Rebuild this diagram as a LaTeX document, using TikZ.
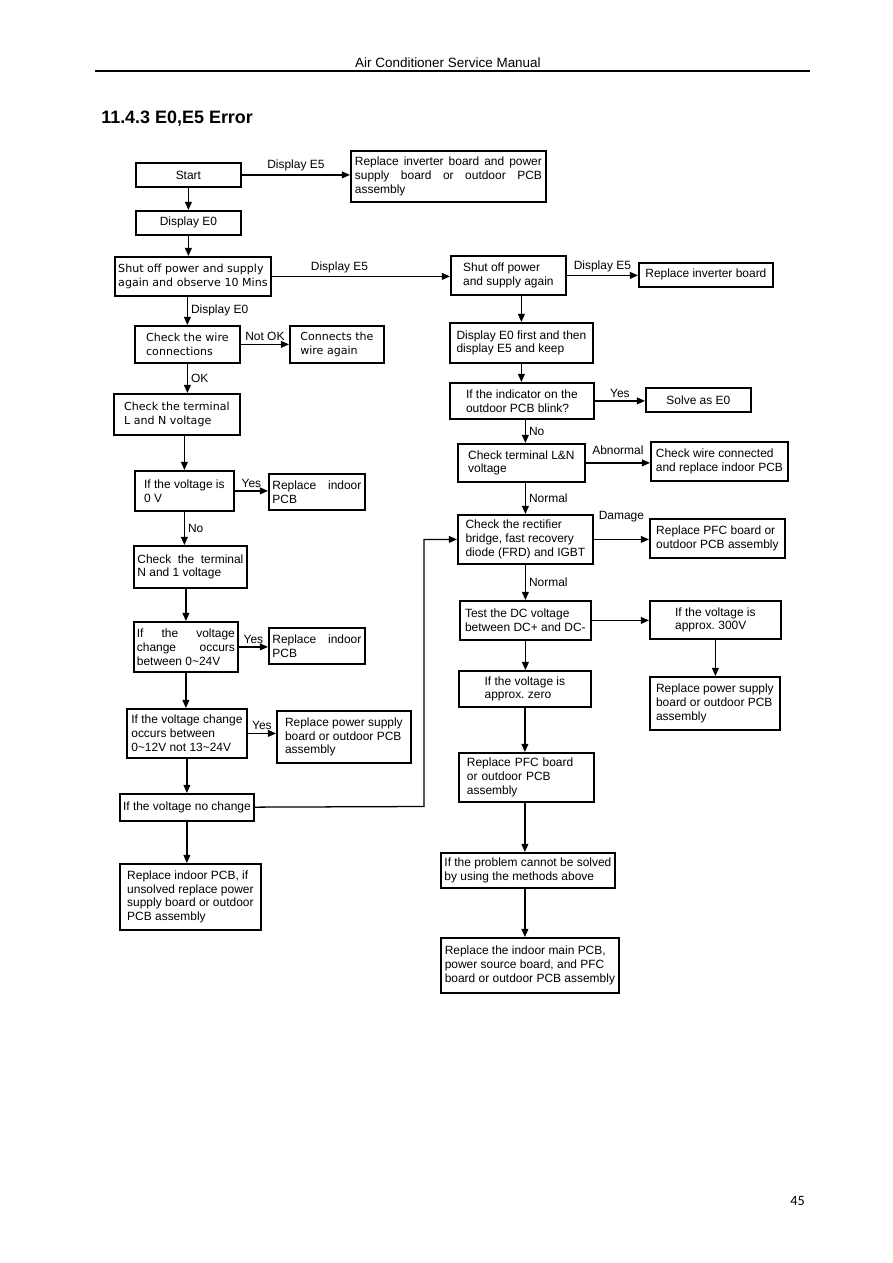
\documentclass[tikz,border=0pt]{standalone}
\usepackage{fontspec}
\setmainfont{Liberation Sans}
\newfontfamily\vfont{DejaVu Sans}
\newfontfamily\pgfont{Carlito}
\usetikzlibrary{arrows.meta}
\newdimen\unitpx
\unitpx=0.235mm

\begin{document}
\begin{tikzpicture}[x=0.235mm, y=-0.235mm,
  font=\fontsize{8}{9.3}\selectfont,
  box/.style={draw, line width=1.2pt, anchor=north west, inner sep=0pt, align=left},
  cbox/.style={box, align=center},
  jbox/.style={box, align=justify, text width=#1\unitpx},
  tbox/.style={box, text width=#1\unitpx},
  wh/.style 2 args={minimum width=#1\unitpx, minimum height=#2\unitpx},
  vtxt/.style={font=\vfont\fontsize{7.4}{9.3}\selectfont},
  lbl/.style={inner sep=2pt},
  arr/.style={-{Triangle[length=1.9mm,width=1.6mm]}, line width=0.85pt}
]
  \useasboundingbox (0,0) rectangle (893,1263);
  \node[anchor=base east, font=\fontsize{9}{11}\selectfont] (hdr) at (546,67) {Air Conditioner Service Manual};
  \draw[line width=1.3pt] (95,71) -- (810,71);
  \node[anchor=base west, font=\bfseries\fontsize{12}{14}\selectfont] (ttl) at (96,123) {11.4.3 E0,E5 Error};
  \node[anchor=base east, font=\pgfont\fontsize{9.5}{11}\selectfont] (pg) at (810,1205) {45};

  \node[cbox, wh={105}{24}]       (start)   at (135,162) {Start};
  \node[jbox=187, wh={195}{51}]   (rep1)    at (350,150) {Replace inverter board and power\linebreak supply board or outdoor PCB\linebreak assembly};
  \node[cbox, wh={105}{24}]       (disp0)   at (135,210) {Display E0};
  \node[box, vtxt, wh={156}{39}]  (shut1)   at (114,256) {Shut off power and supply\\again and observe 10 Mins};
  \node[box, vtxt, wh={105}{37}]  (wire)    at (134,325) {Check the wire\\connections};
  \node[box, vtxt, wh={94}{37}]   (conn)    at (289,325) {Connects the\\wire again};
  \node[box, vtxt, wh={126}{41}]  (lnv)     at (113,393) {Check the terminal\\L and N voltage};
  \node[box, wh={99}{40}]         (volt0)   at (134,470) {If the voltage is\\0 V};
  \node[jbox=89, wh={96}{36}]     (repin1)  at (268,473) {Replace indoor\linebreak PCB};
  \node[jbox=106, wh={113}{42}]   (n1v)     at (133,545) {Check the terminal\linebreak N and 1 voltage};
  \node[jbox=98, wh={104}{50}]    (v24)     at (133,621) {If the voltage\linebreak change occurs\linebreak between 0\textasciitilde24V};
  \node[jbox=89, wh={96}{36}]     (repin2)  at (268,627) {Replace indoor\linebreak PCB};
  \node[box, wh={120}{49}]        (v12)     at (126,708) {If the voltage change\\occurs between\\0\textasciitilde12V not 13\textasciitilde24V};
  \node[box, wh={134}{52}]        (reppow1) at (276,710) {Replace power supply\\board or outdoor PCB\\assembly};
  \node[box, wh={134}{27}]        (nochg)   at (119,793) {If the voltage no change};
  \node[box, wh={141}{66}]        (repfin1) at (119,863) {Replace indoor PCB, if\\unsolved replace power\\supply board or outdoor\\PCB assembly};

  \node[box, wh={115}{39}]        (shut2)   at (450,255) {Shut off power\\and supply again};
  \node[box, wh={134}{24}]        (repinv)  at (638,262) {Replace inverter board};
  \node[box, wh={143}{40}]        (disp05)  at (449,322) {Display E0 first and then\\display E5 and keep};
  \node[box, wh={144}{36}]        (ind)     at (449,382) {If the indicator on the\\outdoor PCB blink?};
  \node[box, wh={105}{24}]        (solve)   at (645,387) {Solve as E0};
  \node[box, wh={127}{38}]        (lnr)     at (457,443) {Check terminal L\&N\\voltage};
  \node[box, wh={137}{39}]        (chkw)    at (650,441) {Check wire connected\\and replace indoor PCB};
  \node[box, wh={135}{49}]        (rect)    at (457,514) {Check the rectifier\\bridge, fast recovery\\diode (FRD) and IGBT};
  \node[box, wh={135}{39}]        (pfc1)    at (649,518) {Replace PFC board or\\outdoor PCB assembly};
  \node[box, wh={131}{39}]        (dctest)  at (459,600) {Test the DC voltage\\between DC+ and DC-};
  \node[box, wh={131}{38}]        (v300)    at (649,600) {If the voltage is\\approx.\ 300V};
  \node[box, wh={130}{53}]        (reppow2) at (649,676) {Replace power supply\\board or outdoor PCB\\assembly};
  \node[box, wh={132}{36}]        (vzero)   at (458,670) {If the voltage is\\approx.\ zero};
  \node[tbox=119, wh={135}{49}]   (pfc2)    at (458,752) {Replace PFC board\\or outdoor PCB\\assembly};
  \node[box, wh={174}{35}]        (prob)    at (440,852) {If the problem cannot be solved\\by using the methods above};
  \node[box, wh={178}{55}]        (repfin2) at (440,937) {Replace the indoor main PCB,\\power source board, and PFC\\board or outdoor PCB assembly};

  \draw[arr] (start) -- node[lbl, above] (l1) {Display E5} (start -| rep1.west);
  \draw[arr] (start) -- (disp0);
  \draw[arr] (disp0) -- (disp0 |- shut1.north);
  \draw[arr] (shut1) -- node[lbl, above, pos=0.38] (l2) {Display E5} (shut1 -| shut2.west);
  \draw[arr] (wire |- shut1.south) -- node[lbl, right] (l3) {Display E0} (wire);
  \draw[arr] (wire) -- node[lbl, above] (l4) {Not OK} (wire -| conn.west);
  \draw[arr] (wire) -- node[lbl, right] (l5) {OK} (wire |- lnv.north);
  \draw[arr] (volt0 |- lnv.south) -- (volt0);
  \draw[arr] (volt0) -- node[lbl, above] (l6) {Yes} (volt0 -| repin1.west);
  \draw[arr] (volt0) -- node[lbl, right] (l7) {No} (volt0 |- n1v.north);
  \draw[arr] (v24 |- n1v.south) -- (v24);
  \draw[arr] (v24) -- node[lbl, above] (l8) {Yes} (v24 -| repin2.west);
  \draw[arr] (v24) -- (v24 |- v12.north);
  \draw[arr] (v12) -- node[lbl, above] (l9) {Yes} (v12 -| reppow1.west);
  \draw[arr] (v12) -- (v12 |- nochg.north);
  \draw[arr] (nochg) -- (nochg |- repfin1.north);
  \coordinate (jog) at (424,806.5);
  \draw[arr] (nochg) -- (jog) |- (rect);

  \draw[arr] (shut2) -- node[lbl, above] (l10) {Display E5} (shut2 -| repinv.west);
  \draw[arr] (disp05 |- shut2.south) -- (disp05);
  \draw[arr] (disp05) -- (disp05 |- ind.north);
  \draw[arr] (ind) -- node[lbl, above] (l11) {Yes} (ind -| solve.west);
  \draw[arr] (rect |- ind.south) -- node[lbl, right] (l12) {No} (rect |- lnr.north);
  \draw[arr] (lnr) -- node[lbl, above=1mm] (l13) {Abnormal} (lnr -| chkw.west);
  \draw[arr] (rect |- lnr.south) -- node[lbl, right] (l14) {Normal} (rect);
  \draw[arr] (rect) -- node[lbl, above=3.2mm] (l15) {Damage} (rect -| pfc1.west);
  \draw[arr] (rect) -- node[lbl, right] (l16) {Normal} (rect |- dctest.north);
  \draw[arr] (dctest) -- (dctest -| v300.west);
  \draw[arr] (v300) -- (v300 |- reppow2.north);
  \draw[arr] (dctest) -- (dctest |- vzero.north);
  \draw[arr] (vzero) -- (vzero |- pfc2.north);
  \draw[arr] (vzero |- pfc2.south) -- (vzero |- prob.north);
  \draw[arr] (vzero |- prob.south) -- (vzero |- repfin2.north);
\end{tikzpicture}
\end{document}
